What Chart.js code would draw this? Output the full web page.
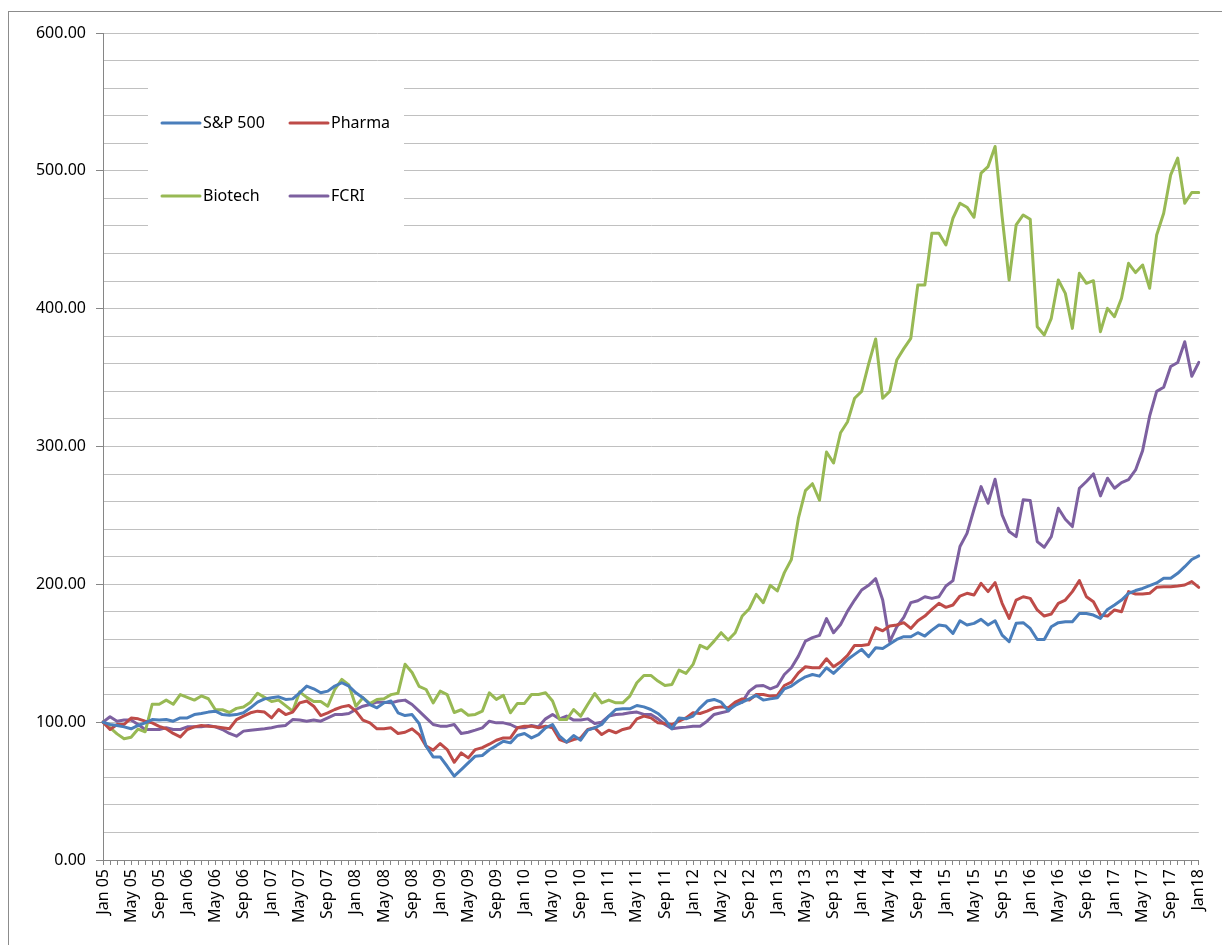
<!DOCTYPE html>
<html>
<head>
<meta charset="utf-8">
<script src="https://cdn.jsdelivr.net/npm/chart.js@4.4.1/dist/chart.umd.min.js"></script>
<style>
  body { margin: 0; background: #fff; }
  #wrap { width: 1222px; height: 945px; }
</style>
</head>
<body>
<div id="wrap"><canvas id="indexChart" width="1222" height="945"></canvas></div>
<script>
// monthly categories Jan 05 .. Jan 18
var monthNames = ['Jan', 'Feb', 'Mar', 'Apr', 'May', 'Jun', 'Jul', 'Aug', 'Sep', 'Oct', 'Nov', 'Dec'];
var months = [];
for (var yr = 5; yr <= 18; yr++) {
    for (var mo = 0; mo < 12; mo++) {
        if (yr === 18 && mo > 0) break;
        months.push(monthNames[mo] + ' ' + (yr < 10 ? '0' + yr : yr));
    }
}

// label shown every 4th month
var tickLabels = ['Jan 05', 'May 05', 'Sep 05', 'Jan 06', 'May 06', 'Sep 06', 'Jan 07', 'May 07', 'Sep 07',
    'Jan 08', 'May 08', 'Sep 08', 'Jan 09', 'May 09', 'Sep 09', 'Jan 10', 'May 10', 'Sep 10',
    'Jan 11', 'May 11', 'Sep 11', 'Jan 12', 'May 12', 'Sep 12', 'Jan 13', 'May 13', 'Sep 13',
    'Jan 14', 'May 14', 'Sep 14', 'Jan 15', 'May 15', 'Sep 15', 'Jan 16', 'May 16', 'Sep 16',
    'Jan 17', 'May 17', 'Sep 17', 'Jan18'];

var spx = [100, 98.3, 97.6, 96.6, 95.2, 97.6, 99.5, 101.9, 101.5, 101.9, 100.7, 103.1, 103.1, 105.5, 106.3, 107.3, 108, 105.5, 105.1, 105.5,
    106.8, 110.4, 114.5, 116.9, 117.7, 118.4, 116.5, 116.9, 121.3, 126.2, 124.2, 121.3, 122.5, 126.2, 128.6, 126.2, 121.3, 117.7, 112.8, 110.4,
    114, 115.3, 106.8, 104.8, 105.5, 99, 82.6, 74.8, 74.8, 68, 60.8, 65.6, 70.5, 75.3, 75.8, 80,
    83, 86.2, 85, 90.3, 91.8, 88.6, 91, 95.9, 98.3, 89.8, 85.5, 90.3, 86.9, 94.2, 95.9, 98.3, 104.4, 109.2, 109.7, 109.7,
    112.1, 111.1, 109.2, 106.3, 101.9, 95.2, 103.1, 102.4, 104.4, 110.4, 115.3, 116.5, 114.5, 108.7, 112.1, 114.5, 116.9, 119.4, 116, 116.9,
    117.7, 124.2, 126.2, 129.8, 132.9, 134.6, 133.4, 139.5, 135.4, 140.2, 145.5, 149.2, 152.8, 147.5, 154,
    153.5, 156.7, 160, 162, 162, 164.9, 162.5, 166.8, 170.5, 169.7, 164.4, 173.6, 170.5, 171.7, 174.6, 170.5, 173.6, 163.2, 158.4, 171.7,
    172.2, 168, 160, 160, 169.2, 172.2, 172.9, 172.9, 178.9, 178.9, 177.7, 175.3, 181.8, 185, 188.6,
    193.5, 195.5, 197, 199, 201, 204.4, 204.4, 208, 212.8, 218, 220.6];

var pharma = [100, 94.7, 98.3, 98.3, 103, 102.4, 100.7, 99.5, 97, 95.2, 91.8, 89.3, 94.7, 96.6, 97.6, 97, 96.6, 95.9, 95.2, 101.9,
    104.4, 106.8, 108, 107.3, 103.1, 109.2, 105.5, 107.3, 114, 115.3, 111.6, 104.8, 106.8, 109.2, 111.1, 112.1, 108, 101.5, 99.5, 95.2,
    95.2, 95.9, 91.8, 92.7, 95.2, 91, 82.6, 79.7, 84.5, 80.1, 70.9, 77.7, 74.1, 80.1, 81.5, 84,
    86.9, 88.6, 88.6, 95.9, 97.1, 97.1, 95.9, 97.1, 95.9, 87.4, 85.5, 87.4, 88.6, 94.7, 95.9, 91, 94.2, 92.3, 94.7, 95.9,
    102.4, 104.4, 103.1, 99.5, 99, 98.3, 100.7, 103.1, 106.8, 106.3, 108, 110.4, 111.1, 110.4, 114.5, 116.9, 116, 120.1, 120.1, 118.9,
    119.4, 126.6, 129, 135.8, 140.2, 139.5, 139.5, 146, 140.2, 143.6, 148.4, 155.7, 155.7, 156.4, 168.5,
    166.3, 169.7, 170.5, 172.2, 168, 173.6, 177, 181.8, 186.2, 183.3, 185, 191.5, 193.5, 192.3, 200.7, 194.7, 201.2, 186.2, 175.3, 188.6,
    191, 189.8, 181.4, 177, 178.5, 186.2, 188.6, 194.7, 202.7, 191, 187.4, 177.7, 177, 181.4, 180.1,
    194.7, 193, 193, 193.5, 197.8, 198.3, 198.3, 198.8, 199.5, 202, 197.8];

var biotech = [100, 96, 91.5, 88, 89, 95, 93, 113, 113, 116, 113, 120, 118, 116, 119, 117, 109, 109, 107, 110,
    111, 114.5, 121, 118, 115, 116, 112, 108, 122, 118, 115, 115, 111.6, 123.7, 131, 127, 111.6, 117.7, 113.5, 116.5,
    117, 120, 121, 142, 136, 126, 123.7, 114, 122.5, 120, 107, 109, 105, 105.6, 108, 121.3,
    116.5, 119.4, 106.8, 113.6, 113.6, 120.1, 120.1, 121.3, 115.3, 101.9, 101.9, 109.2, 104.4, 112.8, 120.8, 114, 116, 114, 114, 118.9,
    128.6, 133.9, 133.9, 129.8, 126.6, 127.4, 137.8, 135.4, 141.9, 155.7, 153.3, 158.8, 164.9, 159.6, 164.9, 177, 182.3, 192.7, 186.7, 199.3,
    195.2, 208.5, 218, 248, 268, 273, 261, 296, 288, 310, 318, 335, 340, 360, 378,
    335, 340, 362.7, 371, 378.5, 417.2, 417.2, 454.7, 454.7, 446.2, 465.6, 476.5, 473.6, 466.3, 498.3, 503.1, 517.7, 466.8, 420.8, 460.8,
    468, 464.9, 386.9, 380.9, 393, 420.8, 411.1, 385.7, 425.7, 418.4, 420.3, 383.3, 400.2, 394.2, 407.5,
    432.9, 426.2, 431.7, 414.8, 453.5, 469.2, 497.1, 509.2, 476.5, 484.3, 484.3];

var fcri = [100, 103.9, 100.7, 101.5, 101.5, 98.3, 94.7, 94.7, 94.7, 95.9, 94.7, 94.7, 96.6, 96.6, 96.6, 97.6, 96.6, 94.7, 91.8, 89.8,
    93.5, 94.2, 94.7, 95.2, 95.9, 97.1, 97.6, 101.9, 101.5, 100.7, 101.5, 100.7, 103.1, 105.5, 105.5, 106.3, 109.2, 111.6, 112.8, 114.5,
    114.5, 114, 115.3, 116, 112.8, 108, 103.1, 98.3, 97.1, 97.1, 98.3, 91.8, 92.7, 94.2, 95.9, 100.7,
    99.5, 99.5, 98.3, 95.9, 95.9, 97.6, 96.6, 102.4, 105.6, 102.4, 104.4, 101.5, 101.5, 102.4, 99, 100, 104.4, 105.6, 106, 106.8,
    107.3, 105.6, 105.6, 102.4, 98.3, 95.2, 95.9, 96.4, 97.1, 97.1, 100.7, 105.6, 106.8, 108, 113.6, 114.5, 122.5, 126.2, 126.6, 124.2,
    126.2, 134.6, 139.5, 147.9, 158.8, 161.3, 163, 175.1, 164.9, 170.9, 180.6, 188.6, 195.9, 199.3, 204.1,
    188.6, 158.4, 169.2, 176, 186.7, 188.1, 191, 189.8, 191, 198.8, 202.7, 227.4, 237, 254.5, 270.9, 258.8, 276.3, 250.4, 238.3, 234.6,
    261.3, 260.8, 231, 226.9, 234.6, 255.2, 247.2, 241.9, 269.7, 274.6, 280.1, 264.2, 277, 269.7, 273.8,
    276, 283, 297, 322, 340, 343, 358, 361, 376, 351, 361];

var seriesNames = ['S&P 500', 'Pharma', 'Biotech', 'FCRI'];
var seriesColors = ['#4A7EBB', '#BE4B48', '#98B954', '#7D60A0'];

var axisGray = '#868686';
var gridGray = '#c0c0c0';
var fontFamily = "'Noto Sans', 'Open Sans', sans-serif";

function makeDataset(i, values) {
    return {
        label: seriesNames[i],
        data: values,
        borderColor: seriesColors[i],
        backgroundColor: seriesColors[i],
        borderWidth: 3,
        pointRadius: 0,
        pointHoverRadius: 0,
        tension: 0,
        borderJoinStyle: 'round',
        borderCapStyle: 'round',
        fill: false
    };
}

// outer frame of the chart area (Excel style)
var framePlugin = {
    id: 'frame',
    beforeDraw: function(chart) {
        var ctx = chart.ctx;
        ctx.save();
        ctx.strokeStyle = '#8c8c8c';
        ctx.lineWidth = 1;
        ctx.strokeRect(8.5, 11.5, 2000, 2000);
        ctx.restore();
    }
};

// legend box sitting inside the plot, 2 x 2 grid
var boxLegendPlugin = {
    id: 'boxLegend',
    beforeDatasetsDraw: function(chart) {
        var ctx = chart.ctx;
        ctx.save();
        ctx.fillStyle = '#ffffff';
        ctx.fillRect(148, 72, 256, 166);
        var spots = [[162, 123], [290, 123], [162, 196], [290, 196]];
        ctx.font = '16px ' + fontFamily;
        ctx.textBaseline = 'middle';
        ctx.lineCap = 'round';
        chart.data.datasets.forEach(function(ds, i) {
            var p = spots[i];
            ctx.strokeStyle = ds.borderColor;
            ctx.lineWidth = 3;
            ctx.beginPath();
            ctx.moveTo(p[0], p[1]);
            ctx.lineTo(p[0] + 38, p[1]);
            ctx.stroke();
            ctx.fillStyle = '#000';
            ctx.fillText(ds.label, p[0] + 41, p[1]);
        });
        ctx.restore();
    }
};

var ctx = document.getElementById('indexChart').getContext('2d');
new Chart(ctx, {
    type: 'line',
    data: {
        labels: months,
        datasets: [
            makeDataset(0, spx),
            makeDataset(1, pharma),
            makeDataset(2, biotech),
            makeDataset(3, fcri)
        ]
    },
    options: {
        responsive: false,
        animation: false,
        devicePixelRatio: 1,
        layout: {
            padding: { left: 0, top: 33, right: 19, bottom: 0 }
        },
        plugins: {
            legend: { display: false },
            tooltip: { enabled: false }
        },
        scales: {
            x: {
                type: 'category',
                offset: false,
                afterFit: function(scale) { scale.height = 85; },
                border: { color: axisGray, width: 1 },
                grid: {
                    drawOnChartArea: false,
                    drawTicks: true,
                    tickLength: 5,
                    tickColor: axisGray
                },
                ticks: {
                    autoSkip: false,
                    minRotation: 90,
                    maxRotation: 90,
                    padding: 4,
                    color: '#000',
                    font: { family: fontFamily, size: 16 },
                    callback: function(val, idx) {
                        return idx % 4 === 0 ? tickLabels[idx / 4] : '';
                    }
                }
            },
            y: {
                min: 0,
                max: 600,
                afterFit: function(scale) { scale.width = 103; },
                border: { color: axisGray, width: 1 },
                grid: {
                    color: gridGray,
                    lineWidth: 1,
                    tickLength: 7,
                    tickColor: function(c) {
                        return c.tick && c.tick.value % 100 === 0 ? axisGray : 'rgba(0,0,0,0)';
                    }
                },
                ticks: {
                    stepSize: 20,
                    padding: 10,
                    color: '#000',
                    font: { family: fontFamily, size: 16 },
                    callback: function(val) {
                        return val % 100 === 0 ? val.toFixed(2) : '';
                    }
                }
            }
        }
    },
    plugins: [framePlugin, boxLegendPlugin]
});
</script>
</body>
</html>
